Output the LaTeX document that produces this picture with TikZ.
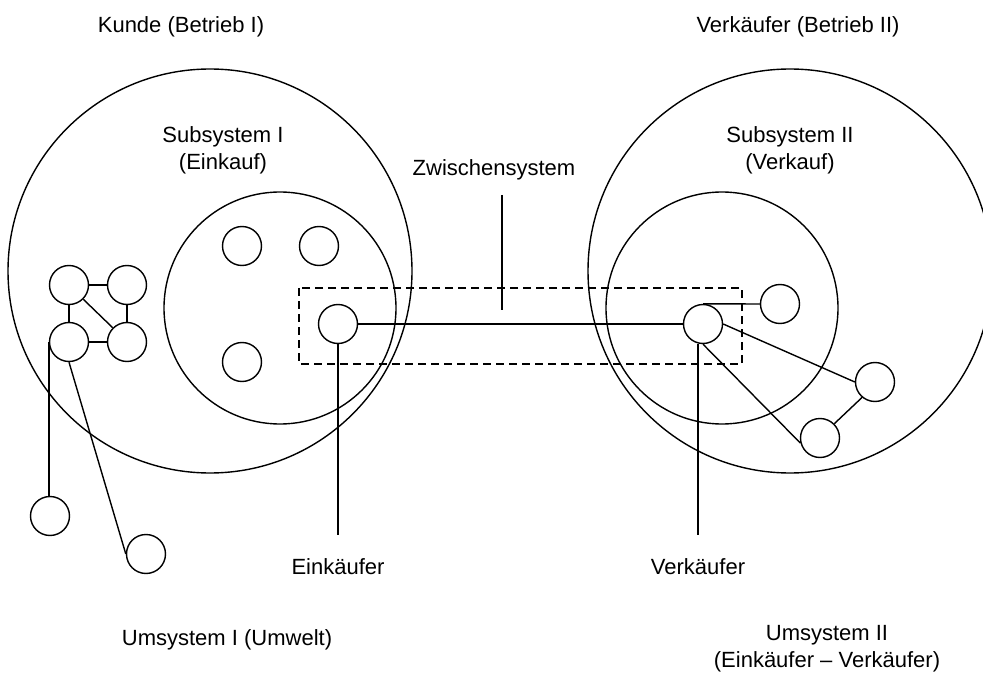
\documentclass[tikz,border=0pt]{standalone}
\usepackage{fontspec}
\setmainfont{Liberation Sans}
\begin{document}
\begin{tikzpicture}[x=1pt,y=-1pt, line width=1.4pt,
  sys/.style={circle, draw, inner sep=0pt, minimum size=#1},
  elem/.style={circle, draw, inner sep=0pt, minimum size=39pt},
  lbl/.style={font=\fontsize{22}{27}\selectfont, align=center, inner sep=0pt},
  zone/.style={dash pattern=on 8pt off 5pt}]
\useasboundingbox (0,0) rectangle (983,679);
\clip (0,0) rectangle (983,679);

% system boundaries
\node[sys=404pt] (betrI)  at (210,271) {};
\node[sys=232pt] (subI)   at (280,308) {};
\node[sys=404pt] (betrII) at (790,271) {};
\node[sys=232pt] (subII)  at (722,308) {};

% intermediate system
\draw[zone] (299,288) rectangle (742,364);

% elements of the environment (left cluster)
\node[elem] (a) at (69,285) {};
\node[elem] (b) at (127,285) {};
\node[elem] (c) at (69,342) {};
\node[elem] (d) at (127,342) {};
\node[elem] (e) at (50,516) {};
\node[elem] (f) at (146,554) {};

% elements of subsystem I
\node[elem] (g) at (242,246) {};
\node[elem] (h) at (319,246) {};
\node[elem] (i) at (242,362) {};
\node[elem] (ek) at (338,324) {};

% elements of subsystem II
\node[elem] (vk) at (703,324) {};
\node[elem] (l) at (780,304) {};
\node[elem] (m) at (875,382) {};
\node[elem] (n) at (820,438) {};

% labels
\node[lbl] (tBetrI)  at (181,27) {Kunde (Betrieb I)};
\node[lbl] (tBetrII) at (798,27) {Verkäufer (Betrieb II)};
\node[lbl] (tSubI)   at (223,150) {Subsystem I\\(Einkauf)};
\node[lbl] (tSubII)  at (790,150) {Subsystem II\\(Verkauf)};
\node[lbl] (tZw)     at (494,170) {Zwischensystem};
\node[lbl] (tEk)     at (338,567) {Einkäufer};
\node[lbl] (tVk)     at (698,567) {Verkäufer};
\node[lbl] (tUmI)    at (227,640) {Umsystem I (Umwelt)};
\node[lbl] (tUmII)   at (827,649) {Umsystem II\\(Einkäufer -- Verkäufer)};

% pointer ends
\coordinate (zwTop) at (502,195);
\coordinate (zwBot) at (502,310);
\coordinate (ekEnd) at (338,535);
\coordinate (vkEnd) at (698,535);

% connections
\draw (a.east) -- (b.west);
\draw (a.south) -- (c.north);
\draw (b.south) -- (d.north);
\draw (c.east) -- (d.west);
\draw (a.south east) -- (d.north west);
\draw (c.west) -- (c.west |- e.north);
\draw (c.south) -- (f.west);

\draw (ek.east) -- (vk.west);
\draw (vk.north) -- (l.west);
\draw (vk.east) -- (m.west);
\draw (vk.south) -- (n.195);
\draw (m.230) -- (n.45);

\draw (zwTop) -- (zwBot);
\draw (ek.south) -- (ekEnd);
\draw (vk.south -| vkEnd) -- (vkEnd);
\end{tikzpicture}
\end{document}
